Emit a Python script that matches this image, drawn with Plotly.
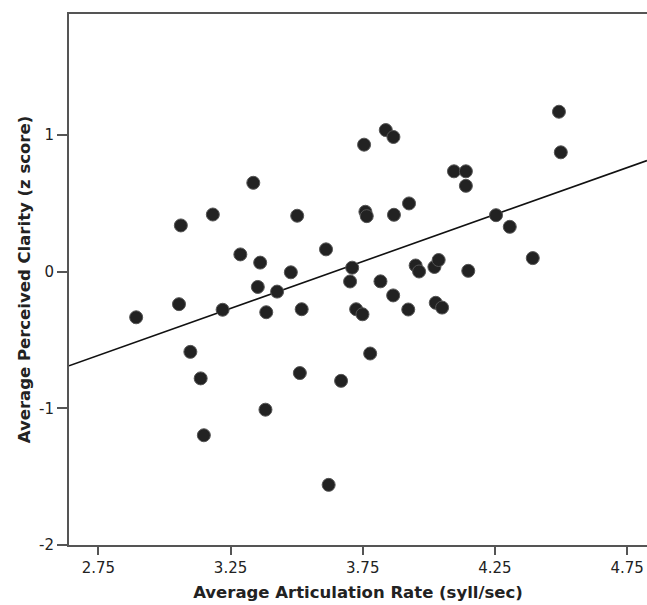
import plotly.graph_objects as go

# Data
articulation_rate = [
    2.893, 3.055, 3.062, 3.098, 3.137, 3.149, 3.183, 3.220, 3.287, 3.336,
    3.353, 3.362, 3.382, 3.385, 3.426, 3.478, 3.502, 3.512, 3.519, 3.611,
    3.621, 3.668, 3.702, 3.710, 3.725, 3.749, 3.755, 3.760, 3.765, 3.778,
    3.817, 3.837, 3.866, 3.865, 3.868, 3.922, 3.925, 3.950, 3.963, 4.021,
    4.037, 4.026, 4.050, 4.095, 4.140, 4.140, 4.149, 4.254, 4.306, 4.393,
    4.492, 4.499,
]
perceived_clarity = [
    -0.334, -0.238, 0.338, -0.587, -0.781, -1.197, 0.418, -0.279, 0.126, 0.650,
    -0.112, 0.066, -1.010, -0.297, -0.146, -0.005, 0.409, -0.742, -0.275, 0.163,
    -1.560, -0.799, -0.072, 0.029, -0.275, -0.312, 0.929, 0.438, 0.406, -0.599,
    -0.071, 1.036, 0.985, -0.174, 0.416, -0.277, 0.499, 0.045, 0.001, 0.034,
    0.085, -0.228, -0.263, 0.734, 0.734, 0.628, 0.006, 0.413, 0.328, 0.099,
    1.170, 0.873,
]

# Fit line
fit_slope = 0.687
fit_intercept = -2.502

x_range = [2.639, 4.825]
y_range = [-2.0, 1.885]

x_tickvals = [2.75, 3.25, 3.75, 4.25, 4.75]
x_ticktext = ["2.75", "3.25", "3.75", "4.25", "4.75"]
y_tickvals = [-2, -1, 0, 1]
y_ticktext = ["-2", "-1", "0", "1"]

fit_x = list(x_range)
fit_y = [fit_intercept + fit_slope * v for v in fit_x]

fig = go.Figure()
fig.add_trace(go.Scatter(
    x=fit_x, y=fit_y, mode="lines",
    line=dict(color="#111111", width=1.6),
    showlegend=False, hoverinfo="skip",
))
fig.add_trace(go.Scatter(
    x=articulation_rate, y=perceived_clarity, mode="markers",
    marker=dict(size=13, color="#222222", line=dict(color="#555555", width=1)),
    showlegend=False,
))

font_family = "DejaVu Sans, Verdana, sans-serif"
tick_size = 15
title_size = 16.5

fig.update_layout(
    width=647, height=605,
    margin=dict(l=69, r=0, t=14, b=60),
    paper_bgcolor="white", plot_bgcolor="white",
    font=dict(family=font_family, size=tick_size, color="#222222"),
    xaxis=dict(
        range=x_range, tickvals=x_tickvals, ticktext=x_ticktext,
        automargin=False,
        showgrid=False, zeroline=False,
        showline=True, linecolor="#555555", linewidth=2, mirror=True,
        ticks="outside", ticklen=8, tickwidth=1.5, tickcolor="#555555",
        tickfont=dict(size=tick_size, family=font_family, color="#222222"),
        title=dict(text="<b>Average Articulation Rate (syll/sec)</b>",
                   font=dict(size=title_size, family=font_family, color="#222222"),
                   standoff=10),
    ),
    yaxis=dict(
        range=y_range, tickvals=y_tickvals, ticktext=y_ticktext,
        automargin=False,
        showgrid=False, zeroline=False,
        showline=True, linecolor="#555555", linewidth=2,
        ticks="outside", ticklen=10, tickwidth=1.5, tickcolor="#555555",
        tickfont=dict(size=tick_size, family=font_family, color="#222222"),
        title=dict(text="<b>Average Perceived Clarity (z score)</b>",
                   font=dict(size=title_size, family=font_family, color="#222222"),
                   standoff=4),
    ),
)

fig.write_html(
    "out.html",
    config={"displayModeBar": False},
    post_script="document.body.style.margin='0';document.documentElement.style.overflow='hidden';",
)
